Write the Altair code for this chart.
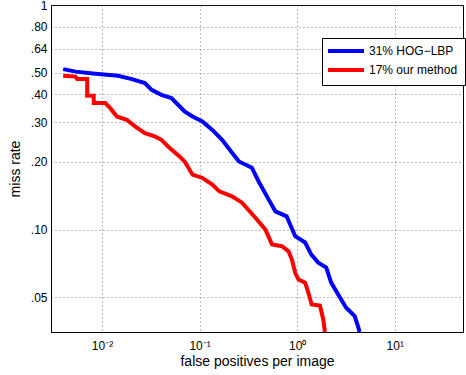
import altair as alt
import pandas as pd

# HOG-LBP curve (false positives per image, miss rate)
fppi_hog = [0.0040, 0.00536, 0.00855, 0.01464, 0.0202, 0.0275, 0.0322, 0.0406, 0.0514, 0.0702,
            0.0846, 0.1068, 0.135, 0.170, 0.215, 0.253, 0.343, 0.404, 0.511, 0.598,
            0.779, 0.954, 1.206, 1.396, 1.645, 1.984, 2.23, 2.63, 3.16, 3.88, 4.19, 4.36]
miss_hog = [0.518, 0.505, 0.494, 0.484, 0.468, 0.449, 0.419, 0.398, 0.385, 0.336,
            0.319, 0.303, 0.278, 0.251, 0.220, 0.201, 0.1887, 0.1634, 0.136, 0.1206,
            0.1146, 0.0934, 0.0876, 0.0774, 0.0713, 0.0678, 0.0581, 0.0514, 0.045, 0.0412, 0.0372, 0.035]

# our method curve
fppi_ours = [0.0040, 0.00536, 0.00557, 0.00705, 0.00705, 0.00822, 0.00822, 0.0108, 0.01214, 0.0142,
             0.01794, 0.0218, 0.0275, 0.0347, 0.0406, 0.0494, 0.0623, 0.0702, 0.0846, 0.1068,
             0.135, 0.1589, 0.215, 0.272, 0.375, 0.473, 0.552, 0.698, 0.816, 0.882,
             0.954, 1.031, 1.206, 1.302, 1.406, 1.712, 1.849, 1.923]
miss_ours = [0.484, 0.480, 0.468, 0.468, 0.394, 0.394, 0.366, 0.366, 0.3474, 0.319,
             0.308, 0.288, 0.269, 0.260, 0.251, 0.2307, 0.2117, 0.201, 0.1756, 0.1698,
             0.1585, 0.148, 0.1406, 0.1318, 0.1127, 0.100, 0.0858, 0.0843, 0.080, 0.0736,
             0.0642, 0.060, 0.058, 0.0523, 0.0464, 0.0459, 0.0398, 0.035]

series_names = ["31% HOG\u2212LBP", "17% our method"]
series_colors = ["#0000ff", "#ff0000"]

x_ticks = [0.01, 0.1, 1, 10]
y_ticks = [0.05, 0.1, 0.2, 0.3, 0.4, 0.5, 0.64, 0.8, 1]

rows = []
for i, (fx, my) in enumerate(zip(fppi_hog, miss_hog)):
    rows.append({"fppi": fx, "miss": my, "series": series_names[0], "order": i})
for i, (fx, my) in enumerate(zip(fppi_ours, miss_ours)):
    rows.append({"fppi": fx, "miss": my, "series": series_names[1], "order": i})
df = pd.DataFrame(rows)

FONT = "Liberation Sans"

x_label_expr = ("datum.value == 0.01 ? '10\u207b\u00b2' : datum.value == 0.1 ? '10\u207b\u00b9' : "
                "datum.value == 1 ? '10\u2070' : '10\u00b9'")
y_label_expr = "datum.value == 1 ? '1' : replace(format(datum.value, '.2f'), '0.', '.')"

chart = alt.Chart(df).mark_line(strokeWidth=4, clip=True).encode(
    x=alt.X("fppi:Q",
            scale=alt.Scale(type="log", domain=[0.003, 50], nice=False),
            axis=alt.Axis(title="false positives per image", values=x_ticks,
                          labelExpr=x_label_expr, grid=True, ticks=False,
                          labelPadding=8, titlePadding=3)),
    y=alt.Y("miss:Q",
            scale=alt.Scale(type="log", domain=[0.035, 1], nice=False),
            axis=alt.Axis(title="miss rate", values=y_ticks, labelExpr=y_label_expr,
                          grid=True, ticks=False, labelPadding=4, titlePadding=8)),
    color=alt.Color("series:N",
                    scale=alt.Scale(domain=series_names, range=series_colors),
                    legend=alt.Legend(title=None, orient="none", legendX=271, legendY=33,
                                      symbolType="M-2.33,0H9.67", symbolStrokeWidth=4,
                                      symbolSize=36, fillColor="white",
                                      strokeColor="black", padding=7,
                                      labelFontSize=12, labelFont=FONT, labelOffset=28,
                                      labelColor="black", rowPadding=3)),
    order="order:Q",
).properties(
    width=412, height=327,
    autosize=alt.AutoSizeParams(type="none"),
    padding={"left": 51, "top": 5, "right": 3, "bottom": 43},
).configure_view(
    stroke="black", strokeWidth=1
).configure_axis(
    domainColor="black", domainWidth=1,
    gridColor="#555555", gridDash=[1, 3], gridWidth=1, gridOpacity=0.8,
    labelFont=FONT, labelFontSize=12, labelColor="black",
    titleFont=FONT, titleFontSize=14, titleFontWeight="normal", titleColor="black",
)

chart.save("out.html", embed_options={"renderer": "svg", "actions": False})
